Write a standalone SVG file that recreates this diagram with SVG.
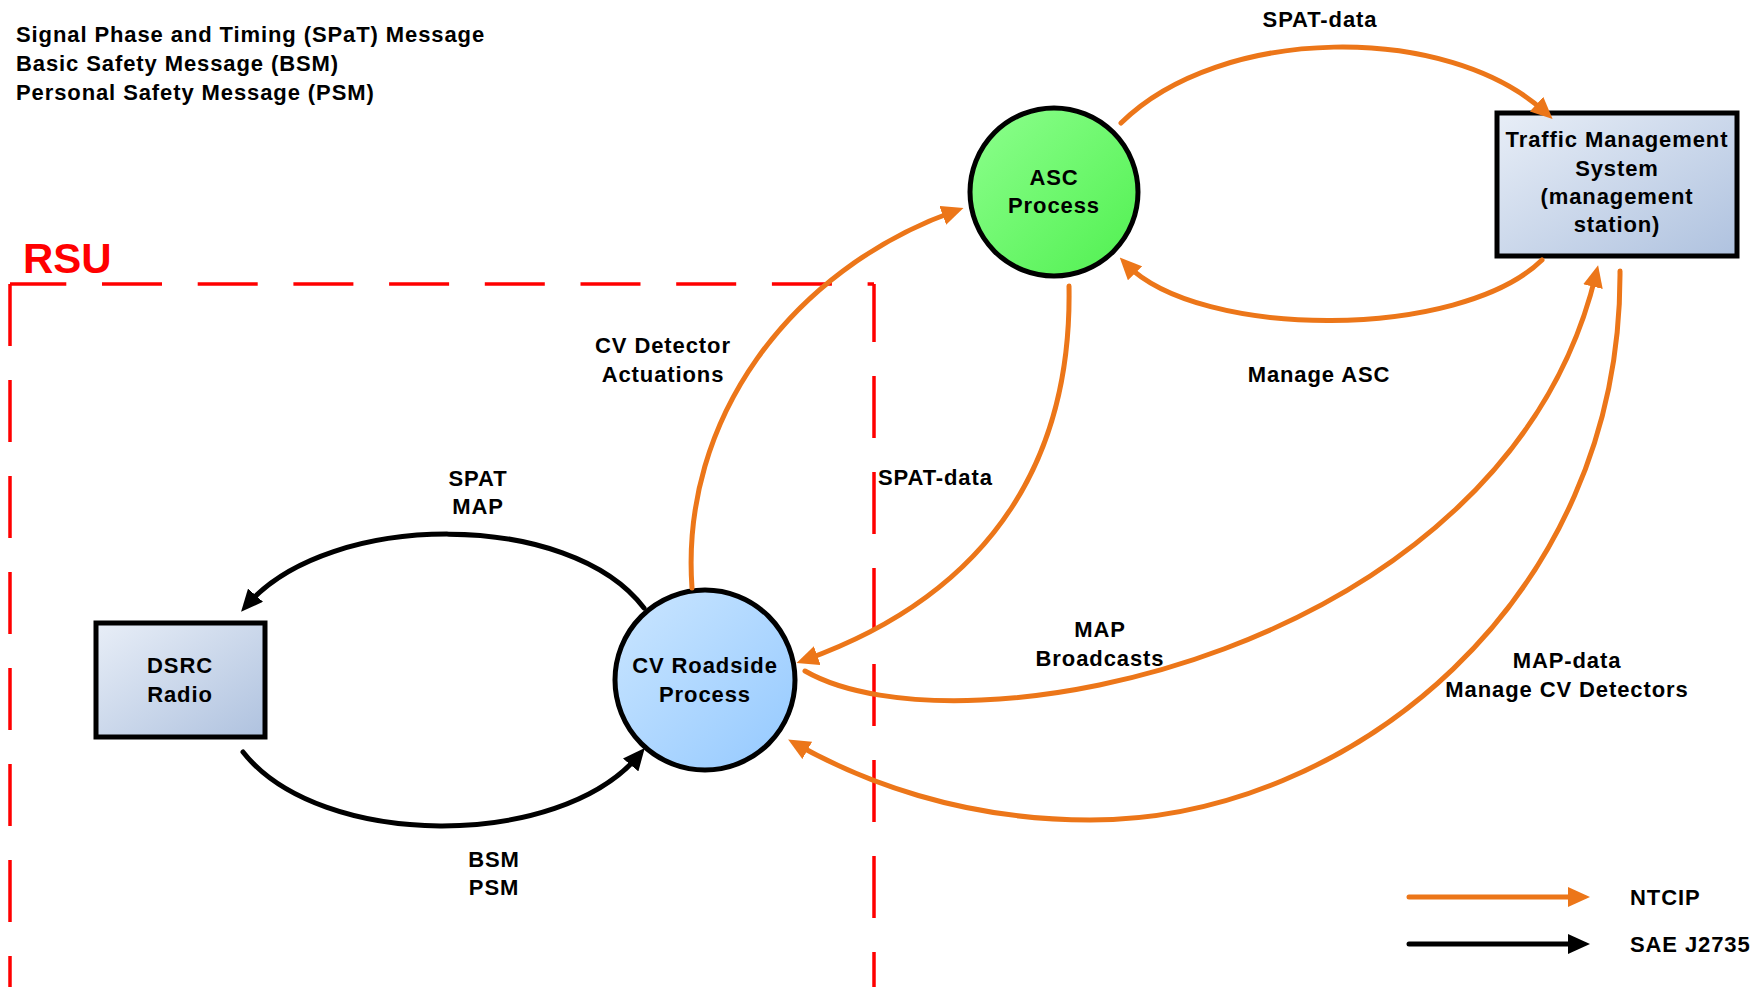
<svg xmlns="http://www.w3.org/2000/svg" width="1763" height="987" viewBox="0 0 1763 987">
  <defs>
    <style>
      text { font-family: "Liberation Sans", Arial, sans-serif; font-weight: bold; font-size: 22px; fill: #000; letter-spacing: 0.9px; }
      .mid { text-anchor: middle; }
      .rsu { font-size: 42px; fill: #FF0000; letter-spacing: 0; }
      .boundary { fill: none; stroke: #FF0000; stroke-width: 3.5; }
      .ntcip { fill: none; stroke: #EC7619; stroke-width: 5; stroke-linecap: round; marker-end: url(#headOrange); }
      .j2735 { fill: none; stroke: #000; stroke-width: 5; stroke-linecap: round; marker-end: url(#headBlack); }
      .outline { stroke: #000; stroke-width: 5; }
    </style>
    <linearGradient id="boxFill" x1="0" y1="0" x2="1" y2="1">
      <stop offset="0" stop-color="#E8EEF7"/>
      <stop offset="1" stop-color="#AFC2DF"/>
    </linearGradient>
    <linearGradient id="blueFill" x1="0" y1="0" x2="1" y2="1">
      <stop offset="0" stop-color="#CBE6FF"/>
      <stop offset="1" stop-color="#94C9FF"/>
    </linearGradient>
    <linearGradient id="greenFill" x1="0" y1="0" x2="1" y2="1">
      <stop offset="0" stop-color="#8DFF8D"/>
      <stop offset="1" stop-color="#50F050"/>
    </linearGradient>
    <marker id="headOrange" markerUnits="userSpaceOnUse" viewBox="0 0 22 20" markerWidth="22" markerHeight="20" refX="13" refY="10" orient="auto">
      <path d="M0,0 L22,10 L0,20 z" fill="#EC7619"/>
    </marker>
    <marker id="headBlack" markerUnits="userSpaceOnUse" viewBox="0 0 22 20" markerWidth="22" markerHeight="20" refX="13" refY="10" orient="auto">
      <path d="M0,0 L22,10 L0,20 z" fill="#000"/>
    </marker>
  </defs>

  <rect width="1763" height="987" fill="#FFFFFF"/>

  <!-- message glossary -->
  <g id="glossary">
    <text x="16" y="42">Signal Phase and Timing (SPaT) Message</text>
    <text x="16" y="71">Basic Safety Message (BSM)</text>
    <text x="16" y="100">Personal Safety Message (PSM)</text>
  </g>

  <!-- roadside unit boundary -->
  <g id="rsu">
    <text class="rsu" x="23" y="273">RSU</text>
    <path class="boundary" d="M10,284 L874,284" stroke-dasharray="60 35.7" stroke-dashoffset="3.7"/>
    <path class="boundary" d="M10,284 L10,990" stroke-dasharray="62 34"/>
    <path class="boundary" d="M874,284 L874,990" stroke-dasharray="58 34 62 34 62 34 62 34 62 34 62 34 62 34 62 34"/>
  </g>

  <!-- nodes -->
  <g id="dsrc-radio">
    <rect class="outline" x="96" y="623" width="169" height="114" fill="url(#boxFill)"/>
    <text class="mid" x="180" y="673">DSRC</text>
    <text class="mid" x="180" y="702">Radio</text>
  </g>

  <g id="cv-roadside-process">
    <circle class="outline" cx="705" cy="680" r="90" fill="url(#blueFill)"/>
    <text class="mid" x="705" y="673">CV Roadside</text>
    <text class="mid" x="705" y="702">Process</text>
  </g>

  <g id="asc-process">
    <circle class="outline" cx="1054" cy="192" r="84" fill="url(#greenFill)"/>
    <text class="mid" x="1054" y="185">ASC</text>
    <text class="mid" x="1054" y="213">Process</text>
  </g>

  <g id="traffic-management-system">
    <rect class="outline" x="1497" y="113" width="240" height="143" fill="url(#boxFill)"/>
    <text class="mid" x="1617" y="147">Traffic Management</text>
    <text class="mid" x="1617" y="176">System</text>
    <text class="mid" x="1617" y="204">(management</text>
    <text class="mid" x="1617" y="232">station)</text>
  </g>

  <!-- connectors -->
  <g id="connectors">
    <path class="ntcip" d="M1121,123 C1220,25 1448,22 1546,113"/>
    <path class="ntcip" d="M1542,260 C1460,340 1200,340 1126,264"/>
    <path class="ntcip" d="M1069,286 C1072,450 1000,590 805,660"/>
    <path class="ntcip" d="M692,588 C680,420 790,270 955,211"/>
    <path class="ntcip" d="M805,671 C960,760 1505,655 1596,274"/>
    <path class="ntcip" d="M1620,271 C1622,600 1350,820 1090,820 C960,820 860,780 796,744"/>
    <path class="j2735" d="M644,608 C570,510 330,510 247,605"/>
    <path class="j2735" d="M243,752 C320,850 560,850 639,755"/>
  </g>

  <!-- connector labels -->
  <g id="labels">
    <text class="mid" x="1320" y="27">SPAT-data</text>
    <text class="mid" x="1319" y="382">Manage ASC</text>
    <text x="878" y="485">SPAT-data</text>
    <text class="mid" x="663" y="353">CV Detector</text>
    <text class="mid" x="663" y="382">Actuations</text>
    <text class="mid" x="478" y="486">SPAT</text>
    <text class="mid" x="478" y="514">MAP</text>
    <text class="mid" x="1100" y="637">MAP</text>
    <text class="mid" x="1100" y="666">Broadcasts</text>
    <text class="mid" x="1567" y="668">MAP-data</text>
    <text class="mid" x="1567" y="697">Manage CV Detectors</text>
    <text class="mid" x="494" y="867">BSM</text>
    <text class="mid" x="494" y="895">PSM</text>
  </g>

  <!-- legend -->
  <g id="legend">
    <path class="ntcip" d="M1409,897 L1581,897"/>
    <path class="j2735" d="M1409,944 L1581,944"/>
    <text x="1630" y="905">NTCIP</text>
    <text x="1630" y="952">SAE J2735</text>
  </g>
</svg>
